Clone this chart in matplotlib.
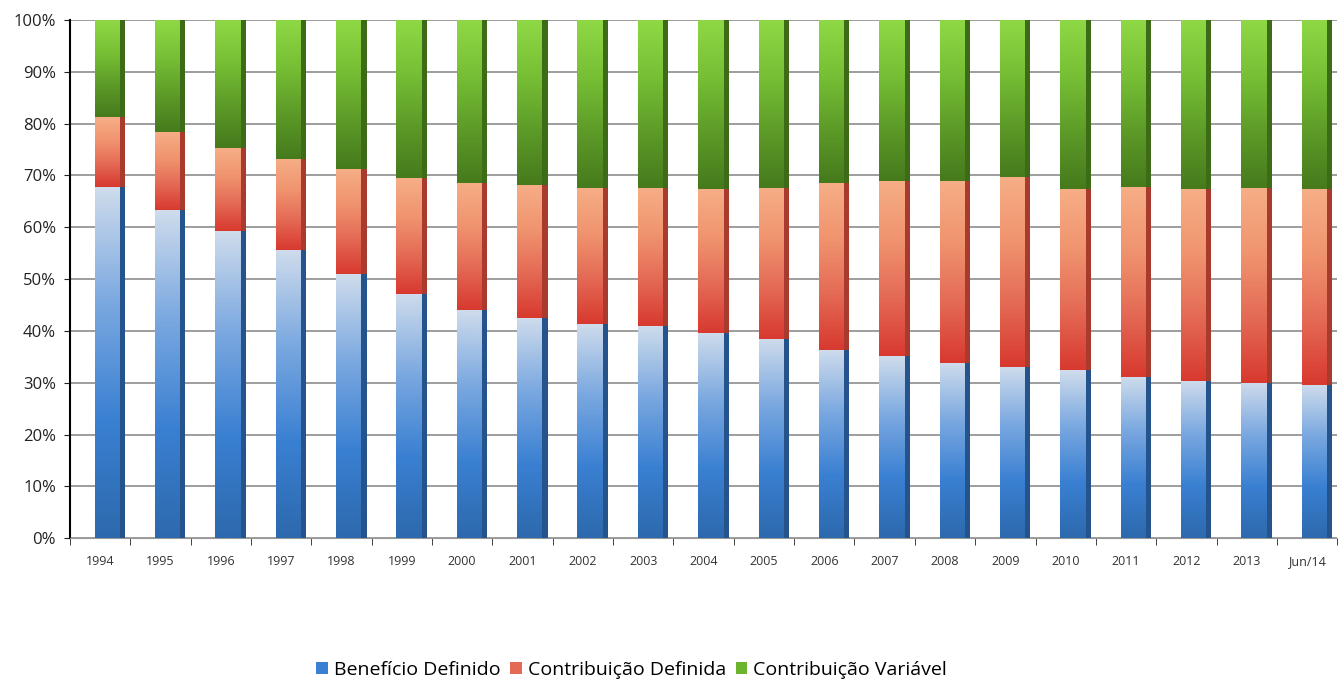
import numpy as np
import matplotlib.pyplot as plt
from matplotlib.colors import LinearSegmentedColormap
from matplotlib.patches import Patch

years = ["1994", "1995", "1996", "1997", "1998", "1999", "2000", "2001", "2002", "2003",
         "2004", "2005", "2006", "2007", "2008", "2009", "2010", "2011", "2012", "2013", "Jun/14"]
beneficio = [67.8, 63.4, 59.3, 55.6, 50.9, 47.2, 44.1, 42.5, 41.3, 40.9,
             39.6, 38.4, 36.3, 35.1, 33.9, 33.1, 32.4, 31.2, 30.4, 30.0, 29.6]
bd_cd_top = [81.3, 78.4, 75.2, 73.1, 71.2, 69.4, 68.6, 68.2, 67.6, 67.6,
             67.3, 67.6, 68.6, 69.0, 69.0, 69.6, 67.3, 67.8, 67.3, 67.6, 67.3]
contribuicao_def = [t - b for t, b in zip(bd_cd_top, beneficio)]
contribuicao_var = [100 - t for t in bd_cd_top]

labels = ["Benefício Definido", "Contribuição Definida", "Contribuição Variável"]

plt.rcParams['font.family'] = ['Open Sans', 'DejaVu Sans']

# gradients go bottom -> top of each segment
grads = [
    ["#2d69ad", "#3a80d2", "#7aa8e0", "#cfdcec"],
    ["#d8392f", "#e46a55", "#f0946f", "#f6ae86"],
    ["#467a1c", "#5d9b28", "#77c035", "#8fd845"],
]
sides = ["#24548b", "#a83a2e", "#3d6b18"]
legend_cols = ["#3a80d2", "#e46a55", "#6cb32e"]

fig = plt.figure(figsize=(13.44, 6.84), dpi=100)
ax = fig.add_axes([0.052, 0.213, 0.943, 0.758])

x = np.arange(len(years))
shift = 0.12
w_front = 0.42
w_side = 0.085
grad_img = np.linspace(0, 1, 256).reshape(-1, 1)

bottoms = np.zeros(len(years))
for k, vals in enumerate([beneficio, contribuicao_def, contribuicao_var]):
    cmap = LinearSegmentedColormap.from_list("g%d" % k, grads[k])
    vals = np.array(vals)
    bars = ax.bar(x + shift, vals, w_front, bottom=bottoms, color="none",
                  edgecolor="none", zorder=3)
    for xi, b, v, patch in zip(x, bottoms, vals, bars):
        im = ax.imshow(grad_img, cmap=cmap, origin="lower", aspect="auto",
                       extent=(xi + shift - w_front / 2, xi + shift + w_front / 2, b, b + v),
                       zorder=3, interpolation="bilinear")
        im.set_clip_path(patch)
    ax.bar(x + shift + w_front / 2 + w_side / 2, vals, w_side, bottom=bottoms,
           color=sides[k], edgecolor="none", zorder=3)
    bottoms = bottoms + vals

ax.set_xlim(-0.5, len(years) - 0.5)
ax.set_ylim(0, 100)
ax.set_yticks(np.arange(0, 101, 10))
ax.set_yticklabels(["%d%%" % v for v in range(0, 101, 10)], fontsize=12, color="#222222")
ax.set_xticks(x)
ax.set_xticklabels(years, fontsize=9, color="#333333")
ax.set_xticks(np.arange(-0.5, len(years), 1), minor=True)
ax.tick_params(axis="x", which="major", length=0, pad=12)
ax.tick_params(axis="x", which="minor", length=5, color="#222222")
ax.tick_params(axis="y", length=4, color="#222222", pad=6)

ax.grid(axis="y", color="#8c8c8c", linewidth=1.2, zorder=0)
ax.set_axisbelow(True)
for s in ["top", "right"]:
    ax.spines[s].set_visible(False)
ax.spines["left"].set_linewidth(1.5)
ax.spines["bottom"].set_color("#999999")

handles = [Patch(facecolor=c, edgecolor="none") for c in legend_cols]
fig.legend(handles, labels, loc="lower center", bbox_to_anchor=(0.47, -0.018), ncol=3,
           frameon=False, fontsize=14, handlelength=0.6, handleheight=0.6,
           handletextpad=0.3, columnspacing=0.5)

fig.savefig("out.png", dpi=100, facecolor="white")
